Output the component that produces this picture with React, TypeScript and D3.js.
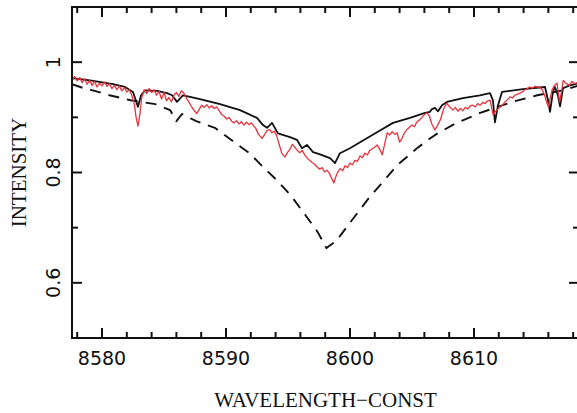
import React from "react";
import * as d3 from "d3";

const W = 577;
const H = 413;

const xMajorTicks = [8580, 8590, 8600, 8610];
const xMinorTicks = [8578, 8582, 8584, 8586, 8588, 8592, 8594, 8596, 8598, 8602, 8604, 8606, 8608, 8612, 8614, 8616, 8618];
const yMajorTicks = [0.6, 0.8, 1];
const yTickLabels = ["0.6", "0.8", "1"];
const yMinorTicks = [0.7, 0.9];

const modelSolid: [number, number][] = [
  [8577.58, 0.971], [8579.03, 0.967], [8580.89, 0.96], [8581.85, 0.955], [8582.5, 0.946],
  [8582.9, 0.919], [8583.15, 0.94], [8583.47, 0.949], [8584.44, 0.948], [8585.24, 0.944],
  [8585.65, 0.94], [8586.05, 0.928], [8586.53, 0.94], [8587.1, 0.937], [8587.9, 0.933],
  [8589.52, 0.924], [8591.13, 0.913], [8592.5, 0.899], [8592.98, 0.886], [8593.31, 0.881],
  [8593.71, 0.89], [8594.19, 0.871], [8595.16, 0.864], [8595.73, 0.859], [8596.13, 0.844],
  [8596.53, 0.85], [8597.02, 0.837], [8597.58, 0.833], [8598.39, 0.826], [8598.79, 0.817],
  [8599.19, 0.835], [8600.0, 0.844], [8600.81, 0.855], [8602.18, 0.873], [8603.47, 0.89],
  [8604.84, 0.899], [8606.05, 0.908], [8606.45, 0.91], [8606.61, 0.915], [8606.85, 0.917],
  [8607.1, 0.911], [8607.42, 0.922], [8607.82, 0.928], [8609.11, 0.935], [8610.48, 0.94],
  [8611.29, 0.944], [8611.53, 0.931], [8611.69, 0.891], [8611.94, 0.922], [8612.26, 0.946],
  [8613.95, 0.951], [8615.73, 0.955], [8615.97, 0.931], [8616.13, 0.91], [8616.37, 0.946],
  [8616.53, 0.955], [8616.77, 0.94], [8616.94, 0.92], [8617.18, 0.953], [8617.74, 0.958],
  [8618.47, 0.962],
];

const observed: [number, number][] = [
  [8577.6, 0.968], [8577.8, 0.974], [8578.0, 0.966], [8578.2, 0.972], [8578.4, 0.963], [8578.6, 0.97],
  [8578.8, 0.96], [8579.0, 0.967], [8579.2, 0.958], [8579.4, 0.965], [8579.6, 0.955], [8579.8, 0.962],
  [8580.0, 0.957], [8580.2, 0.964], [8580.4, 0.956], [8580.6, 0.961], [8580.8, 0.952], [8581.0, 0.958],
  [8581.2, 0.95], [8581.4, 0.957], [8581.6, 0.948], [8581.8, 0.954], [8582.0, 0.946], [8582.2, 0.95],
  [8582.4, 0.94], [8582.6, 0.925], [8582.75, 0.9], [8582.9, 0.884], [8583.05, 0.905], [8583.2, 0.935],
  [8583.4, 0.95], [8583.6, 0.943], [8583.8, 0.952], [8584.0, 0.945], [8584.2, 0.95], [8584.4, 0.94],
  [8584.6, 0.947], [8584.8, 0.933], [8585.0, 0.945], [8585.2, 0.93], [8585.4, 0.936], [8585.6, 0.928],
  [8585.8, 0.94], [8586.0, 0.945], [8586.2, 0.938], [8586.4, 0.948], [8586.6, 0.944], [8586.8, 0.935],
  [8587.0, 0.928], [8587.2, 0.92], [8587.45, 0.912], [8587.65, 0.907], [8587.85, 0.915], [8588.05, 0.922],
  [8588.25, 0.918], [8588.45, 0.923], [8588.65, 0.917], [8588.85, 0.921], [8589.05, 0.916], [8589.25, 0.919],
  [8589.45, 0.912], [8589.65, 0.905], [8589.85, 0.902], [8590.05, 0.897], [8590.25, 0.9], [8590.45, 0.893],
  [8590.65, 0.89], [8590.85, 0.894], [8591.05, 0.888], [8591.25, 0.892], [8591.45, 0.886], [8591.65, 0.891],
  [8591.85, 0.887], [8592.05, 0.89], [8592.25, 0.884], [8592.4, 0.88], [8592.6, 0.87], [8592.9, 0.862],
  [8593.1, 0.868], [8593.3, 0.876], [8593.5, 0.878], [8593.7, 0.872], [8593.9, 0.875], [8594.1, 0.866],
  [8594.3, 0.85], [8594.5, 0.835], [8594.75, 0.828], [8594.95, 0.836], [8595.15, 0.842], [8595.35, 0.851],
  [8595.55, 0.846], [8595.75, 0.84], [8595.95, 0.836], [8596.15, 0.84], [8596.35, 0.832], [8596.55, 0.826],
  [8596.75, 0.822], [8596.95, 0.818], [8597.15, 0.815], [8597.35, 0.81], [8597.55, 0.806], [8597.75, 0.809],
  [8597.95, 0.801], [8598.15, 0.804], [8598.35, 0.798], [8598.55, 0.788], [8598.7, 0.781], [8598.85, 0.792],
  [8599.0, 0.8], [8599.2, 0.807], [8599.4, 0.803], [8599.6, 0.812], [8599.8, 0.809], [8600.0, 0.817],
  [8600.2, 0.814], [8600.4, 0.822], [8600.6, 0.82], [8600.8, 0.83], [8601.0, 0.827], [8601.2, 0.835],
  [8601.4, 0.832], [8601.6, 0.84], [8601.8, 0.843], [8602.0, 0.846], [8602.2, 0.85], [8602.4, 0.842],
  [8602.6, 0.832], [8602.8, 0.852], [8603.0, 0.872], [8603.2, 0.868], [8603.4, 0.874], [8603.6, 0.869],
  [8603.8, 0.872], [8604.0, 0.855], [8604.2, 0.862], [8604.4, 0.872], [8604.6, 0.878], [8604.8, 0.882],
  [8605.0, 0.886], [8605.2, 0.883], [8605.4, 0.892], [8605.6, 0.895], [8605.8, 0.9], [8606.0, 0.905],
  [8606.2, 0.908], [8606.4, 0.902], [8606.6, 0.888], [8606.85, 0.877], [8607.05, 0.885], [8607.3, 0.896],
  [8607.55, 0.915], [8607.8, 0.926], [8608.0, 0.92], [8608.3, 0.913], [8608.5, 0.918], [8608.7, 0.911],
  [8608.9, 0.916], [8609.1, 0.912], [8609.3, 0.918], [8609.5, 0.915], [8609.7, 0.921], [8609.9, 0.922],
  [8610.1, 0.919], [8610.3, 0.925], [8610.5, 0.922], [8610.7, 0.927], [8610.9, 0.925], [8611.1, 0.93],
  [8611.3, 0.931], [8611.45, 0.915], [8611.55, 0.904], [8611.7, 0.91], [8611.85, 0.913], [8612.05, 0.918],
  [8612.3, 0.922], [8612.5, 0.928], [8612.7, 0.932], [8612.9, 0.937], [8613.1, 0.935], [8613.3, 0.94],
  [8613.5, 0.942], [8613.7, 0.944], [8613.9, 0.946], [8614.1, 0.95], [8614.3, 0.952], [8614.5, 0.955],
  [8614.7, 0.953], [8614.9, 0.956], [8615.1, 0.955], [8615.3, 0.955], [8615.5, 0.95], [8615.7, 0.94],
  [8615.85, 0.928], [8616.0, 0.919], [8616.15, 0.935], [8616.3, 0.95], [8616.5, 0.958], [8616.7, 0.962],
  [8616.8, 0.945], [8616.9, 0.928], [8617.05, 0.945], [8617.2, 0.967], [8617.4, 0.962], [8617.7, 0.958],
  [8617.9, 0.965], [8618.1, 0.961], [8618.47, 0.964],
];

const broadProfile: [number, number][] = [
  [8577.58, 0.96], [8578.5, 0.953], [8579.4, 0.948], [8580.6, 0.94], [8582.3, 0.931], [8584.3, 0.924],
  [8585.5, 0.913], [8586.0, 0.893], [8586.45, 0.906], [8587.6, 0.893], [8589.1, 0.881], [8590.3, 0.861],
  [8591.9, 0.835], [8592.9, 0.812], [8594.1, 0.786], [8595.2, 0.759], [8596.2, 0.729], [8597.4, 0.692],
  [8598.1, 0.663], [8598.9, 0.676], [8600.0, 0.709], [8601.6, 0.756], [8603.0, 0.792], [8603.8, 0.813],
  [8605.4, 0.844], [8606.6, 0.864], [8607.0, 0.87], [8608.6, 0.89], [8610.5, 0.908], [8613.1, 0.928],
  [8615.1, 0.94], [8617.2, 0.949], [8618.47, 0.958],
];

const X_DOMAIN: [number, number] = [8577.58, 8618.47];
const Y_DOMAIN: [number, number] = [0.5, 1.1];

export default function App() {
  const left = 72, right = 579, top = 7, bottom = 338;
  const x = d3.scaleLinear().domain(X_DOMAIN).range([left, right]);
  const y = d3.scaleLinear().domain(Y_DOMAIN).range([bottom, top]);
  const line = d3.line<[number, number]>().x((d) => x(d[0])).y((d) => y(d[1]));
  const sans = "'DejaVu Sans', sans-serif";
  const serif = "'Liberation Serif', 'Times New Roman', serif";
  const axisW = 2;
  return (
    <svg width={W} height={H} style={{ position: "absolute", left: 0, top: 0, background: "#fff" }}>
      <defs>
        <clipPath id="plot">
          <rect x={left} y={top} width={right - left} height={bottom - top} />
        </clipPath>
      </defs>
      <g clipPath="url(#plot)" fill="none" strokeLinejoin="round">
        <path d={line(broadProfile) || ""} stroke="#111" strokeWidth={1.9} strokeDasharray="11,8" />
        <path d={line(modelSolid) || ""} stroke="#111" strokeWidth={1.8} />
        <path d={line(observed) || ""} stroke="#e8323c" strokeWidth={1.3} />
      </g>
      <g stroke="#111" strokeWidth={axisW}>
        {xMajorTicks.map((t) => (
          <g key={"xM" + t}>
            <line x1={x(t)} x2={x(t)} y1={bottom} y2={bottom - 10} />
            <line x1={x(t)} x2={x(t)} y1={top} y2={top + 10} />
          </g>
        ))}
        {xMinorTicks.map((t) => (
          <g key={"xm" + t}>
            <line x1={x(t)} x2={x(t)} y1={bottom} y2={bottom - 6} />
            <line x1={x(t)} x2={x(t)} y1={top} y2={top + 6} />
          </g>
        ))}
        {yMajorTicks.map((t) => (
          <g key={"yM" + t}>
            <line x1={left} x2={left + 10} y1={y(t)} y2={y(t)} />
            <line x1={right} x2={right - 10} y1={y(t)} y2={y(t)} />
          </g>
        ))}
        {yMinorTicks.map((t) => (
          <g key={"ym" + t}>
            <line x1={left} x2={left + 6} y1={y(t)} y2={y(t)} />
            <line x1={right} x2={right - 6} y1={y(t)} y2={y(t)} />
          </g>
        ))}
        <rect x={left} y={top} width={right - left} height={bottom - top} fill="none" />
      </g>
      <g fontFamily={sans} fontSize={19} fill="#111">
        {xMajorTicks.map((t) => (
          <text key={"xl" + t} x={x(t)} y={365} textAnchor="middle">{t}</text>
        ))}
        {yMajorTicks.map((t, i) => (
          <text key={"yl" + t} transform={`translate(60,${y(t)}) rotate(-90)`} textAnchor="middle">
            {yTickLabels[i]}
          </text>
        ))}
      </g>
      <text x={(left + right) / 2} y={407} textAnchor="middle" fontFamily={serif} fontSize={21} fill="#111">
        WAVELENGTH−CONST
      </text>
      <text transform={`translate(26,${(top + bottom) / 2}) rotate(-90)`} textAnchor="middle" fontFamily={serif} fontSize={21} fill="#111">
        INTENSITY
      </text>
    </svg>
  );
}
